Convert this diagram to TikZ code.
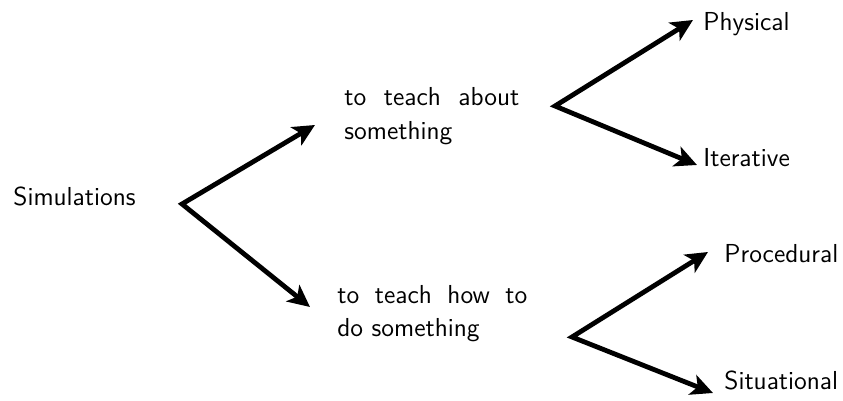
\documentclass[tikz,border=0pt]{standalone}
\usepackage{tikz}
\usetikzlibrary{arrows.meta}

\begin{document}
\begin{tikzpicture}[x=0.5pt, y=-0.5pt,
  font=\fontsize{13}{17}\selectfont\sffamily,
  fork/.style={line width=2.4pt, line join=miter,
    {Stealth[length=11pt,width=10.5pt,inset=2.8pt]}-{Stealth[length=11pt,width=10.5pt,inset=2.8pt]}},
  txt/.style={anchor=base west, inner sep=0pt}]
\useasboundingbox (0,0) rectangle (843,401);
% labels
\node[txt] (sim) at (13,206) {Simulations};
\node[txt, align=left] (about) at (344,140) {\makebox[87.5pt][s]{to teach about}\\something};
\node[txt, align=left] (howto) at (337,337) {\makebox[95pt][s]{to teach how to}\\do something};
\node[txt] (phys) at (703,31) {Physical};
\node[txt] (iter) at (703,167) {Iterative};
\node[txt] (proc) at (724,263) {Procedural};
\node[txt] (situ) at (724,390) {Situational};
% forks and arrow ends
\coordinate (fork1) at (182,204);
\coordinate (fork2) at (555,106);
\coordinate (fork3) at (572,337);
\coordinate (to-about) at (315,125);
\coordinate (to-howto) at (310,307);
\coordinate (to-phys) at (693,20);
\coordinate (to-iter) at (697,165);
\coordinate (to-proc) at (708,252);
\coordinate (to-situ) at (713,393);
\draw[fork] (to-about) -- (fork1) -- (to-howto);
\draw[fork] (to-phys) -- (fork2) -- (to-iter);
\draw[fork] (to-proc) -- (fork3) -- (to-situ);
\end{tikzpicture}
\end{document}
